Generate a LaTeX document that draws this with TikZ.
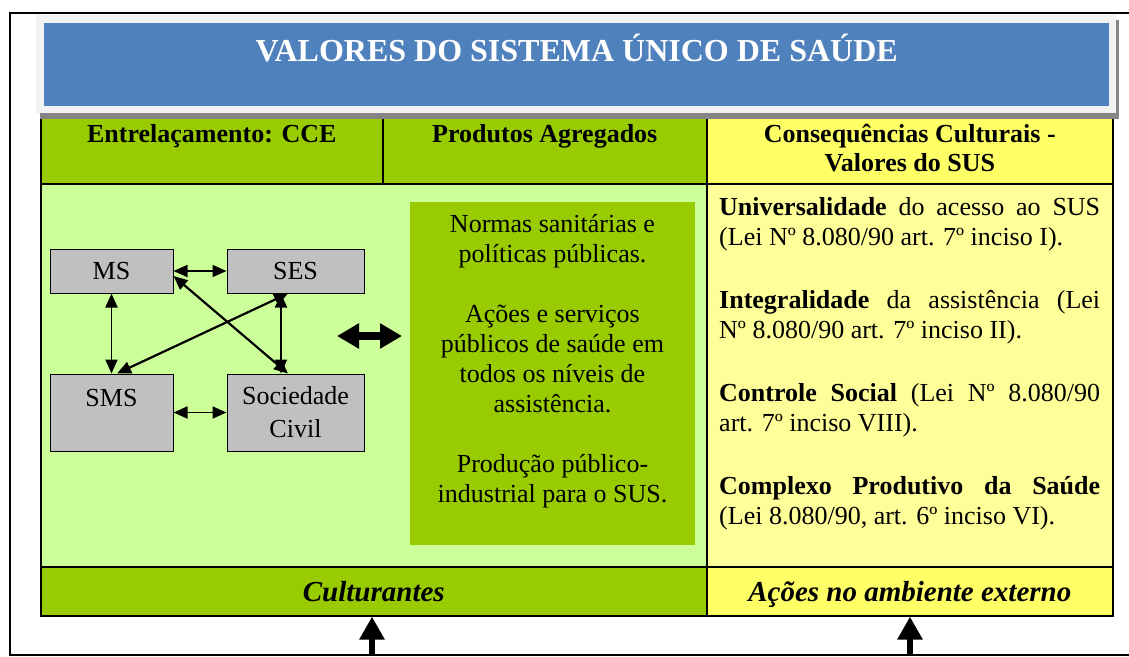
\documentclass[tikz,border=0pt]{standalone}
\usepackage{fontspec}
\setmainfont{Liberation Serif}
\usepackage{tikz}
\usetikzlibrary{
        arrows.meta,
        positioning
    }
\definecolor{titleblue}{HTML}{4F81BD}
\definecolor{framegray}{HTML}{F2F2F2}
\definecolor{shadowgray}{HTML}{858585}
\definecolor{cellgreen}{HTML}{99CC00}
\definecolor{palegreen}{HTML}{CCFF99}
\definecolor{cellyellow}{HTML}{FFFF66}
\definecolor{paleyellow}{HTML}{FFFF99}
\definecolor{boxgray}{HTML}{C0C0C0}
\tikzset{node distance=53pt}

\begin{document}
\begin{tikzpicture}[x=1pt,y=-1pt,
        cell/.style={draw=black,line width=1.6pt,inner sep=0pt,anchor=north west},
        head/.style={cell,align=center,font=\fontsize{26}{29}\selectfont\bfseries},
        foot/.style={cell,text height=26pt,text depth=6pt,font=\fontsize{29}{32}\selectfont\bfseries\itshape},
        entity/.style={draw=black,line width=1pt,fill=boxgray,minimum width=123pt,minimum height=44pt,inner sep=3pt,align=center,font=\fontsize{26}{33}\selectfont},
        link/.style={{Triangle[length=14pt,width=12pt]}-{Triangle[length=14pt,width=12pt]},line width=1.8pt},
        fatboth/.style={{Triangle[length=22pt,width=24pt]}-{Triangle[length=22pt,width=24pt]},line width=8pt},
        fatup/.style={-{Triangle[length=23pt,width=24pt]},line width=6pt}]
    \useasboundingbox (0,0) rectangle (1129,656);
    % outer frame
    \draw[line width=1.6pt] (1129,13) -- (10,13) -- (10,655) -- (1129,655);

    % table
    \node[head,fill=cellgreen,minimum width=342pt,minimum height=66pt] (ccehead) at (40,117) {\strut Entrelaçamento: CCE\\\strut};
    \node[head,fill=cellgreen,minimum width=324pt,minimum height=66pt] (prodhead) at (382,117) {\strut Produtos Agregados\\\strut};
    \node[head,fill=cellyellow,minimum width=406pt,minimum height=66pt] (conshead) at (706,117) {\strut Consequências Culturais -\\\strut Valores do SUS};
    \node[cell,fill=palegreen,minimum width=666pt,minimum height=383pt] (cce) at (40,183) {};
    \node[cell,fill=paleyellow,minimum width=406pt,minimum height=383pt] (valores) at (706,183) {};
    \node[foot,fill=cellgreen,minimum width=666pt,minimum height=49pt] (cult) at (40,566) {Culturantes};
    \node[foot,fill=cellyellow,minimum width=406pt,minimum height=49pt] (acoes) at (706,566) {Ações no ambiente externo};

    % title
    \fill[shadowgray] (40,20) rectangle (1119,119);
    \node[fill=framegray,minimum width=1080pt,minimum height=98pt,inner sep=0pt,anchor=north west] (titleframe) at (36,15) {};
    \node[fill=titleblue,minimum width=1065pt,minimum height=83pt,inner sep=0pt,anchor=north west,
          text=white,text height=38pt,text depth=45pt,font=\fontsize{32}{37}\selectfont\bfseries] (title) at (44,23) {VALORES DO SISTEMA ÚNICO DE SAÚDE};

    % entrelacamento
    \node[entity] (MS) at (111.5,271) {MS};
    \node[entity,minimum width=137pt] (SES) [right=of MS] {SES};
    \node[entity,minimum height=77pt,text height=28pt,text depth=41pt,inner ysep=4pt] (SMS) [below=80pt of MS] {SMS};
    \node[entity,minimum width=137pt,minimum height=77pt] (Soc) [right=of SMS] {Sociedade\\Civil};
    \draw[link] (MS) -- (SES);
    \draw[link] (MS) -- (SMS);
    \draw[link] (SMS) -- (Soc);
    \draw[link] ([xshift=-14.5pt]SES.south) -- ([xshift=-14.5pt]Soc.north);
    \draw[link,line width=2.2pt] ([yshift=-5pt]MS.east) -- ([xshift=-7.5pt]Soc.north);
    \draw[link,line width=2.2pt] ([xshift=-7.5pt]SES.south) -- ([xshift=5.5pt]SMS.north);

    \coordinate (fatL) at (337,336);
    \coordinate (fatR) at (402,336);
    \draw[fatboth] (fatL) -- (fatR);

    % produtos
    \node[fill=cellgreen,minimum width=285pt,minimum height=343pt,inner sep=0pt] (prod) at (552.5,373.5) {};
    \node[anchor=north,inner sep=0pt,align=center,font=\fontsize{26}{30}\selectfont] (prodtext) at (552.5,214)
        {Normas sanitárias e\\políticas públicas.\\[30pt]
         Ações e serviços\\públicos de saúde em\\todos os níveis de\\assistência.\\[30pt]
         Produção público-\\industrial para o SUS.};

    % valores
    \node[anchor=north west,inner sep=0pt,text width=381pt,align=justify,font=\fontsize{26}{30}\selectfont] (valtext) at (719,197.5)
        {\parindent=0pt
         \textbf{Universalidade} do acesso ao SUS\linebreak (Lei Nº 8.080/90 art. 7º inciso I).\par\vspace{33pt}
         \textbf{Integralidade} da assistência (Lei\linebreak Nº 8.080/90 art. 7º inciso II).\par\vspace{33pt}
         \textbf{Controle Social} (Lei Nº 8.080/90\linebreak art. 7º inciso VIII).\par\vspace{33pt}
         \textbf{Complexo Produtivo da Saúde}\linebreak (Lei 8.080/90, art. 6º inciso VI).};

    % entradas
    \coordinate (inA) at (372,656);
    \coordinate (inB) at (910,656);
    \draw[fatup] (inA) -- (inA |- cult.south);
    \draw[fatup] (inB) -- (inB |- acoes.south);
\end{tikzpicture}
\end{document}
